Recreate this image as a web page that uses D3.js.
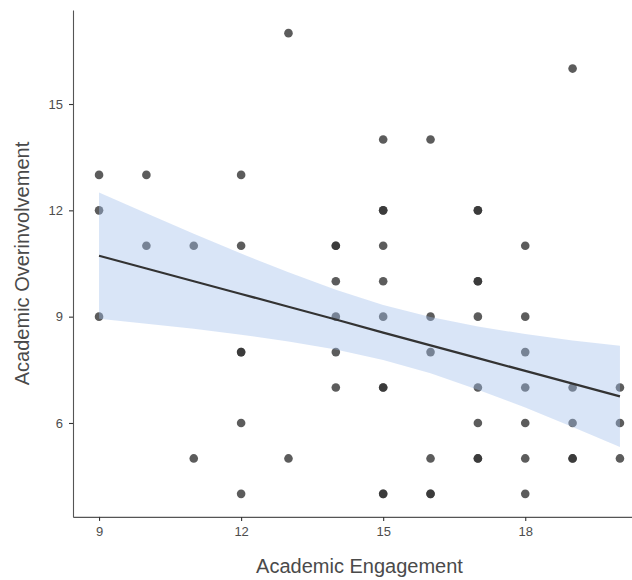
<!DOCTYPE html>
<html>
<head>
<meta charset="utf-8">
<script src="https://cdn.jsdelivr.net/npm/d3@7"></script>
<style>
  body { margin: 0; background: #fff; }
  svg { display: block; font-family: "Liberation Sans", Arial, sans-serif; }
</style>
</head>
<body>
<svg id="chart" width="632" height="580"></svg>
<script>

// Scatter points (engagement, overinvolvement); duplicates listed twice
var engagement = [9, 9, 9, 10, 10, 11, 11, 12, 12, 12, 12, 12, 12, 13, 13,
    14, 14, 14, 14, 14, 14, 15, 15, 15, 15, 15, 15, 15, 15, 15, 15,
    16, 16, 16, 16, 16, 16, 17, 17, 17, 17, 17, 17, 17, 17, 17,
    18, 18, 18, 18, 18, 18, 18, 19, 19, 19, 19, 19, 20, 20, 20];
var overinvolvement = [13, 12, 9, 13, 11, 11, 5, 13, 11, 8, 8, 6, 4, 17, 5,
    11, 11, 10, 9, 8, 7, 14, 12, 12, 11, 10, 9, 7, 7, 4, 4,
    14, 9, 8, 5, 4, 4, 12, 12, 10, 10, 9, 7, 6, 5, 5,
    11, 9, 8, 7, 6, 5, 4, 16, 7, 6, 5, 5, 7, 6, 5];

// Fitted line and confidence band
var fitX = [9, 10, 11, 12, 13, 14, 15, 16, 17, 18, 19, 20];
var fitY = [10.72, 10.36, 10.00, 9.64, 9.28, 8.92, 8.55, 8.19, 7.83, 7.47, 7.11, 6.75];
var bandHigh = [12.50, 11.92, 11.34, 10.78, 10.25, 9.76, 9.33, 8.99, 8.72, 8.51, 8.33, 8.18];
var bandLow = [8.94, 8.80, 8.66, 8.49, 8.30, 8.07, 7.78, 7.40, 6.94, 6.44, 5.89, 5.32];

var xTicks = [9, 12, 15, 18];
var yTicks = [6, 9, 12, 15];

var svg = d3.select('#chart');

var x = d3.scaleLinear().domain([8.45, 20.55]).range([73, 646]);
var y = d3.scaleLinear().domain([3.35, 17.65]).range([516.9, 10.1]);

// Points
svg.append('g')
    .selectAll('circle')
    .data(engagement)
    .enter()
    .append('circle')
    .attr('cx', function(d) { return x(d); })
    .attr('cy', function(d, i) { return y(overinvolvement[i]); })
    .attr('r', 4.3)
    .attr('fill', '#333333')
    .attr('fill-opacity', 0.8);

// Confidence band (drawn over points like ggplot)
var area = d3.area()
    .x(function(d, i) { return x(fitX[i]); })
    .y0(function(d, i) { return y(bandLow[i]); })
    .y1(function(d, i) { return y(bandHigh[i]); });

svg.append('path')
    .datum(fitX)
    .attr('d', area)
    .attr('fill', 'rgb(160,190,235)')
    .attr('fill-opacity', 0.4);

// Regression line
var line = d3.line()
    .x(function(d, i) { return x(fitX[i]); })
    .y(function(d, i) { return y(fitY[i]); });

svg.append('path')
    .datum(fitX)
    .attr('d', line)
    .attr('fill', 'none')
    .attr('stroke', '#333333')
    .attr('stroke-width', 2.2);

// Axes
var xAxis = svg.append('g')
    .attr('transform', 'translate(0,' + 516.9 + ')')
    .call(d3.axisBottom(x).tickValues(xTicks).tickSize(4).tickPadding(6).tickSizeOuter(0));

var yAxis = svg.append('g')
    .attr('transform', 'translate(73,0)')
    .call(d3.axisLeft(y).tickValues(yTicks).tickSize(4).tickPadding(6).tickSizeOuter(0));

[xAxis, yAxis].forEach(function(a) {
    a.select('.domain').attr('stroke', '#555555').attr('stroke-width', 1.1);
    a.selectAll('.tick line').attr('stroke', '#333333').attr('stroke-width', 1.1);
    a.selectAll('.tick text')
        .attr('fill', '#4d4d4d')
        .style('font-size', '13px')
        .style('font-family', '"Liberation Sans", Arial, sans-serif');
});

// Axis titles
svg.append('text')
    .attr('x', 359.5)
    .attr('y', 573)
    .attr('text-anchor', 'middle')
    .attr('fill', '#4a4a4a')
    .style('font-size', '20px')
    .text('Academic Engagement');

svg.append('text')
    .attr('transform', 'translate(29,263.5) rotate(-90)')
    .attr('text-anchor', 'middle')
    .attr('fill', '#4a4a4a')
    .style('font-size', '20px')
    .text('Academic Overinvolvement');

</script>
</body>
</html>
